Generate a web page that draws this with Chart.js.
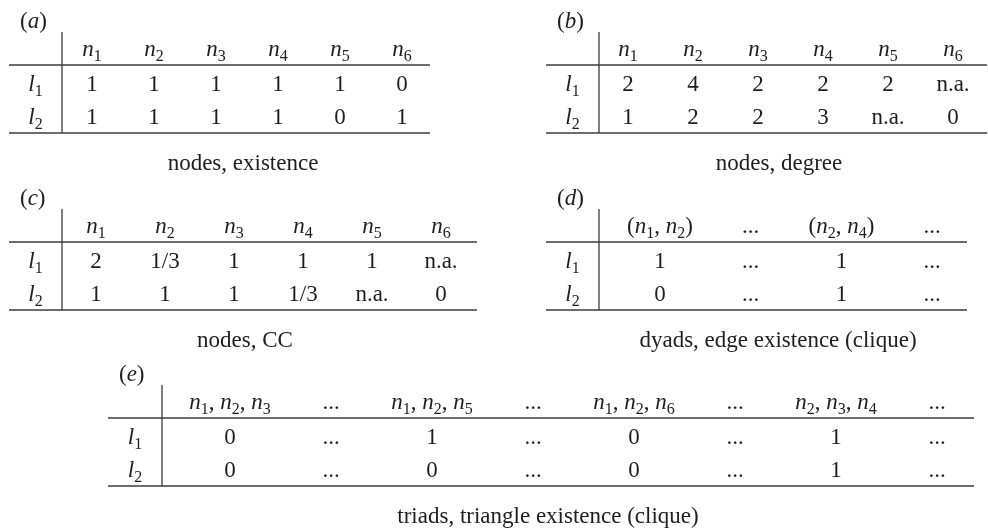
<!DOCTYPE html>
<html>
<head>
<meta charset="utf-8">
<script src="https://cdn.jsdelivr.net/npm/chart.js@4.4.1/dist/chart.umd.min.js"></script>
<style>
  html, body { margin: 0; padding: 0; background: #fff; }
  #wrap { width: 988px; height: 531px; }
</style>
</head>
<body>
<div id="wrap"><canvas id="tables" width="988" height="531"></canvas></div>
<script>
// ---------- Data ----------
const rowLabels = ["l_1", "l_2"];
const nodeCols = ["n_1", "n_2", "n_3", "n_4", "n_5", "n_6"];

const existL1 = ["1", "1", "1", "1", "1", "0"];
const existL2 = ["1", "1", "1", "1", "0", "1"];

const degreeL1 = ["2", "4", "2", "2", "2", "n.a."];
const degreeL2 = ["1", "2", "2", "3", "n.a.", "0"];

const ccL1 = ["2", "1/3", "1", "1", "1", "n.a."];
const ccL2 = ["1", "1", "1", "1/3", "n.a.", "0"];

const dyadCols = ["(n_1, n_2)", "...", "(n_2, n_4)", "..."];
const dyadL1 = ["1", "...", "1", "..."];
const dyadL2 = ["0", "...", "1", "..."];

const triadCols = ["n_1, n_2, n_3", "...", "n_1, n_2, n_5", "...", "n_1, n_2, n_6", "...", "n_2, n_3, n_4", "..."];
const triadL1 = ["0", "...", "1", "...", "0", "...", "1", "..."];
const triadL2 = ["0", "...", "0", "...", "0", "...", "1", "..."];

const panelLetters = ["a", "b", "c", "d", "e"];
const captions = [
  "nodes, existence",
  "nodes, degree",
  "nodes, CC",
  "dyads, edge existence (clique)",
  "triads, triangle existence (clique)",
];

// ---------- Layout (value units of the hidden linear scales) ----------
const FONT = '"Liberation Serif", "Times New Roman", serif';
const SIZE = 23;
const SUB = 16;
const CAP = 23;
const INK = "#1f1d1e";
const RULE = "#3c3c3c";

const tables = [
  { cols: nodeCols, rows: [existL1, existL2], left: 9, vline: 62, right: 430, col0: 92, step: 62, rule: 65, capX: 243 },
  { cols: nodeCols, rows: [degreeL1, degreeL2], left: 546, vline: 599, right: 987, col0: 628, step: 65, rule: 65, capX: 779 },
  { cols: nodeCols, rows: [ccL1, ccL2], left: 9, vline: 62, right: 477, col0: 96, step: 69, rule: 242, capX: 245 },
  { cols: dyadCols, rows: [dyadL1, dyadL2], left: 546, vline: 599, right: 967, col0: 660, step: 90.7, rule: 242, capX: 778 },
  { cols: triadCols, rows: [triadL1, triadL2], left: 108, vline: 162, right: 974, col0: 230, step: 101, rule: 418, capX: 548 },
];

// ---------- Rich text helpers ----------
// letter followed by "_d" -> italic letter with upright subscript digit
function parseMath(str) {
  const segs = [];
  for (let i = 0; i < str.length; i++) {
    const ch = str[i];
    if (/[a-z]/i.test(ch) && str[i + 1] === "_") {
      segs.push({ t: ch, font: `italic ${SIZE}px ${FONT}`, dy: 0 });
      segs.push({ t: str[i + 2], font: `${SUB}px ${FONT}`, dy: 5 });
      i += 2;
    } else {
      segs.push({ t: ch, font: `${SIZE}px ${FONT}`, dy: 0 });
    }
  }
  return segs;
}

function drawSegs(ctx, segs, x, y, align) {
  let w = 0;
  segs.forEach((s) => { ctx.font = s.font; s.w = ctx.measureText(s.t).width; w += s.w; });
  let cx = align === "left" ? x : x - w / 2;
  segs.forEach((s) => {
    ctx.font = s.font;
    ctx.fillText(s.t, cx, y + s.dy);
    cx += s.w;
  });
}

function hLine(ctx, x1, x2, y) {
  ctx.beginPath();
  ctx.moveTo(x1, y);
  ctx.lineTo(x2, y);
  ctx.stroke();
}

// ---------- Table plugin ----------
const tablePlugin = {
  id: "tables",
  afterDraw(chart) {
    const ctx = chart.ctx;
    const px = (v) => chart.scales.x.getPixelForValue(v);
    const py = (v) => chart.scales.y.getPixelForValue(v);
    ctx.save();
    ctx.fillStyle = INK;
    ctx.strokeStyle = RULE;
    ctx.lineWidth = 1.3;
    ctx.textBaseline = "alphabetic";
    ctx.textAlign = "left";

    tables.forEach((t, k) => {
      const r = t.rule;
      // panel label (a), (b) ...
      drawSegs(ctx, [
        { t: "(", font: `${SIZE}px ${FONT}`, dy: 0 },
        { t: panelLetters[k], font: `italic ${SIZE}px ${FONT}`, dy: 0 },
        { t: ")", font: `${SIZE}px ${FONT}`, dy: 0 },
      ], px(t.left + 11), py(r - 37), "left");

      // rules
      hLine(ctx, px(t.left), px(t.right), py(r));
      hLine(ctx, px(t.left), px(t.right), py(r + 68));
      ctx.beginPath();
      ctx.moveTo(px(t.vline), py(r - 33));
      ctx.lineTo(px(t.vline), py(r + 68));
      ctx.stroke();

      // header
      t.cols.forEach((c, j) => {
        drawSegs(ctx, parseMath(c), px(t.col0 + j * t.step), py(r - 9), "center");
      });
      // rows
      t.rows.forEach((row, i) => {
        const base = r + 26 + i * 33;
        drawSegs(ctx, parseMath(rowLabels[i]), px((t.left + t.vline) / 2), py(base), "center");
        row.forEach((v, j) => {
          drawSegs(ctx, parseMath(v), px(t.col0 + j * t.step), py(base), "center");
        });
      });
      // caption
      drawSegs(ctx, [{ t: captions[k], font: `${CAP}px ${FONT}`, dy: 0 }], px(t.capX), py(r + 105), "center");
    });
    ctx.restore();
  },
};

// ---------- Chart ----------
new Chart(document.getElementById("tables"), {
  type: "scatter",
  data: { datasets: [{ data: [], pointRadius: 0 }] },
  options: {
    responsive: false,
    animation: false,
    layout: { padding: 0 },
    plugins: { legend: { display: false }, tooltip: { enabled: false } },
    scales: {
      x: { type: "linear", min: 0, max: 988, display: false },
      y: { type: "linear", min: 0, max: 531, reverse: true, display: false },
    },
  },
  plugins: [tablePlugin],
});
</script>
</body>
</html>
